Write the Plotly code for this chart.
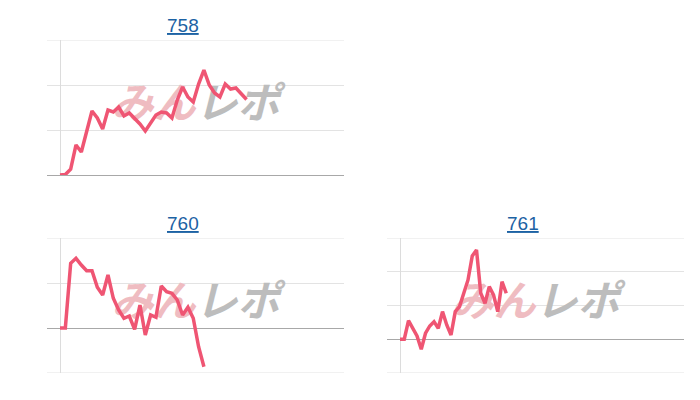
import plotly.graph_objects as go

titles = ["758", "760", "761"]

values_758 = [0, 10, 130, 667, 511, 956, 1422, 1267, 1022, 1444, 1400, 1511,
              1311, 1378, 1267, 1133, 978, 1156, 1333, 1400, 1378, 1267, 1667,
              1956, 1733, 1622, 2022, 2333, 2000, 1822, 1733, 2022, 1911, 1933,
              1800, 1678]
values_760 = [0, 0, 1438, 1549, 1400, 1273, 1273, 904, 733, 1178, 660, 400,
              216, 267, -29, 511, -156, 289, 238, 933, 807, 771, 622, 289, 460,
              216, -416, -860]
values_761 = [0, 0, 551, 335, 98, -296, 178, 394, 521, 326, 818, 424, 127,
              818, 966, 1363, 1757, 2468, 2646, 1363, 1067, 1559, 1313, 818,
              1707, 1363]

series = [values_758, values_760, values_761]
x_ranges = [[-2.44, 53.28], [-2.44, 53.28], [-3.06, 66.82]]
y_ranges = [[0, 3000], [-1000, 2000], [-1000, 3000]]

# page offset (body margin) compensation
W, H, OFF = 684, 384, 8


def px_x(a, b):
    return [(a - OFF) / W, (b - OFF) / W]


def px_y(top, bottom):
    return [1 - (bottom - OFF) / H, 1 - (top - OFF) / H]


x_domains = [px_x(47, 344), px_x(47, 344), px_x(387, 684)]
y_domains = [px_y(40, 175), px_y(238, 373), px_y(238, 373)]
title_x = [(183 - OFF) / W, (183 - OFF) / W, (523 - OFF) / W]

LINE = "#ef5573"
GRID = "#e3e3e3"
BASE = "#a8a8a8"
TITLE = "#1c62a4"

fig = go.Figure()
layout = dict(width=W, height=H, margin=dict(l=0, r=0, t=0, b=0),
              paper_bgcolor="white", plot_bgcolor="white", showlegend=False,
              annotations=[], shapes=[])

for i, (vals, title) in enumerate(zip(series, titles)):
    sfx = "" if i == 0 else str(i + 1)
    xa, ya = "x" + sfx, "y" + sfx
    xr, yr = x_ranges[i], y_ranges[i]
    cx = (xr[0] + xr[1]) / 2
    cy = (yr[0] + yr[1]) / 2
    # watermark (drawn under the line)
    fig.add_trace(go.Scatter(
        x=[cx, cx], y=[cy, cy], mode="text", text=["みん", "レポ"],
        textposition=["middle left", "middle right"],
        textfont=dict(family="Noto Sans CJK JP", size=42, weight="bold",
                      style="italic", color=["#efbcc1", "#bdbdbd"]),
        hoverinfo="skip", xaxis=xa, yaxis=ya))
    fig.add_trace(go.Scatter(
        x=list(range(len(vals))), y=vals, mode="lines",
        line=dict(color=LINE, width=3.5), xaxis=xa, yaxis=ya))
    layout["xaxis" + sfx] = dict(domain=x_domains[i], range=xr, showgrid=False,
                                 zeroline=True, zerolinecolor="#dcdcdc",
                                 zerolinewidth=1, showticklabels=False,
                                 anchor=ya, fixedrange=True)
    layout["yaxis" + sfx] = dict(domain=y_domains[i], range=yr, dtick=1000,
                                 tick0=0, showgrid=True, gridcolor=GRID,
                                 gridwidth=1, zeroline=True, zerolinecolor=BASE,
                                 zerolinewidth=1, showticklabels=False,
                                 anchor=xa, fixedrange=True)
    # gridlines at the range edges (plotly clips those)
    for edge in yr:
        if edge != 0:
            layout["shapes"].append(dict(
                type="line", xref=xa + " domain", yref=ya, x0=0, x1=1,
                y0=edge, y1=edge, layer="below",
                line=dict(color=GRID, width=1)))
    layout["annotations"].append(dict(
        text="<u>" + title + "</u>", xref="paper", yref="paper",
        x=title_x[i], y=y_domains[i][1] + 15 / H,
        xanchor="center", yanchor="middle", showarrow=False,
        font=dict(family="Liberation Sans, Arial", size=19, color=TITLE)))

fig.update_layout(**layout)
fig.write_html("out.html")
